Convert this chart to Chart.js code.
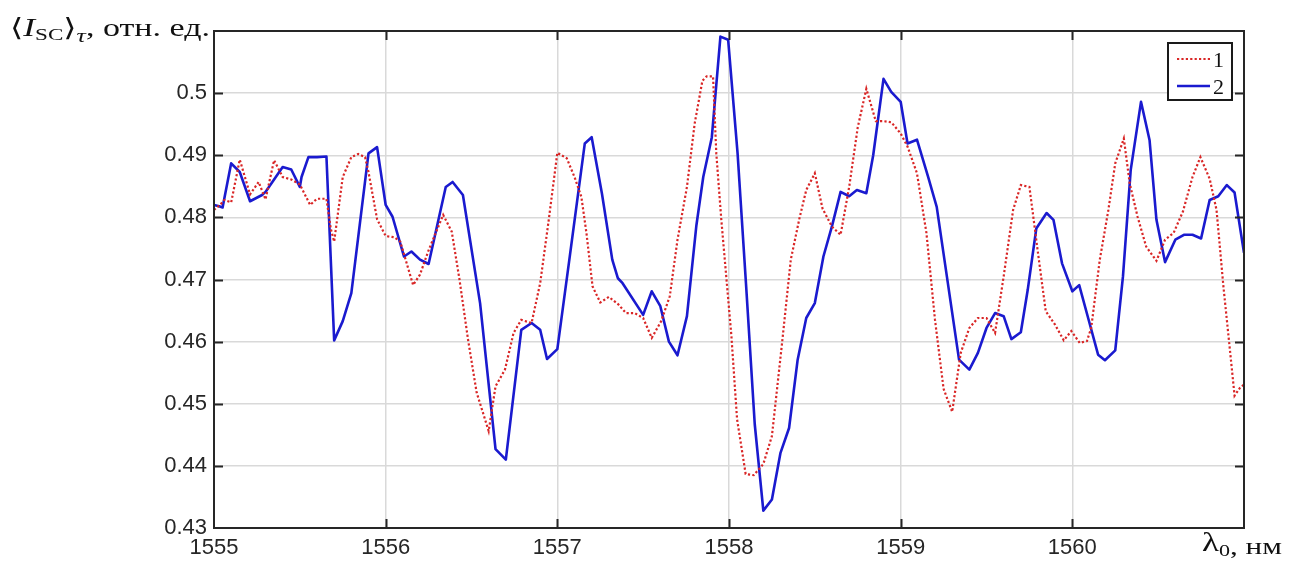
<!DOCTYPE html>
<html>
<head>
<meta charset="utf-8">
<script src="https://cdn.jsdelivr.net/npm/chart.js@4.4.1/dist/chart.umd.min.js"></script>
<style>
  html, body { margin: 0; padding: 0; background: #ffffff; }
  #wrap { width: 1292px; height: 564px; }
</style>
</head>
<body>
<div id="wrap"><canvas id="chart" width="1292" height="564"></canvas></div>
<script>
// Series 1 (dotted red): wavelength, nm
const wavelength1 = [
  1555.00, 1555.035, 1555.06, 1555.10, 1555.15, 1555.21, 1555.26, 1555.30, 1555.35, 1555.40,
  1555.45, 1555.50, 1555.56, 1555.60, 1555.655, 1555.68, 1555.70, 1555.75, 1555.80, 1555.84,
  1555.88, 1555.90, 1555.95, 1556.00, 1556.05, 1556.085, 1556.16, 1556.20, 1556.25, 1556.335,
  1556.385, 1556.43, 1556.48, 1556.53, 1556.60, 1556.64, 1556.695, 1556.745, 1556.79, 1556.85,
  1556.90, 1556.95, 1557.00, 1557.055, 1557.10, 1557.14, 1557.17, 1557.205, 1557.25, 1557.30,
  1557.355, 1557.40, 1557.45, 1557.50, 1557.55, 1557.605, 1557.655, 1557.70, 1557.755, 1557.80,
  1557.845, 1557.87, 1557.907, 1557.926, 1557.955, 1558.014, 1558.047, 1558.097, 1558.144, 1558.20,
  1558.25, 1558.31, 1558.36, 1558.41, 1558.45, 1558.50, 1558.545, 1558.60, 1558.65, 1558.70,
  1558.75, 1558.80, 1558.855, 1558.90, 1558.946, 1559.00, 1559.04, 1559.095, 1559.15, 1559.20,
  1559.25, 1559.30, 1559.35, 1559.40, 1559.45, 1559.50, 1559.55, 1559.60, 1559.655, 1559.70,
  1559.75, 1559.795, 1559.845, 1559.90, 1559.95, 1559.994, 1560.043, 1560.085, 1560.11, 1560.16,
  1560.21, 1560.25, 1560.30, 1560.334, 1560.38, 1560.43, 1560.49, 1560.54, 1560.59, 1560.645,
  1560.70, 1560.746, 1560.80, 1560.84, 1560.88, 1560.916, 1560.945, 1560.975, 1561.00
];
// Series 1: time-averaged intensity, rel. units
const signal1 = [
  0.4812, 0.4820, 0.4828, 0.4824, 0.4893, 0.4837, 0.4857, 0.4829, 0.4892, 0.4865,
  0.4861, 0.4853, 0.4820, 0.4830, 0.4830, 0.4782, 0.4761, 0.4865, 0.4897, 0.4902,
  0.4897, 0.4873, 0.4797, 0.4770, 0.4768, 0.4761, 0.4691, 0.4708, 0.4747, 0.4804,
  0.4777, 0.4700, 0.4603, 0.4518, 0.4456, 0.4528, 0.4555, 0.4614, 0.4635, 0.4630,
  0.4694, 0.4796, 0.4904, 0.4895, 0.4865, 0.4833, 0.4774, 0.4689, 0.4663, 0.4672,
  0.4660, 0.4646, 0.4646, 0.4638, 0.4606, 0.4633, 0.4673, 0.4764, 0.4849, 0.4951,
  0.5020, 0.5027, 0.5027, 0.4903, 0.4797, 0.4609, 0.4475, 0.4387, 0.4385, 0.4403,
  0.4448, 0.4600, 0.4732, 0.4798, 0.4844, 0.4871, 0.4814, 0.4785, 0.4772, 0.4849,
  0.4945, 0.5007, 0.4955, 0.4955, 0.4953, 0.4935, 0.4914, 0.4871, 0.4775, 0.4635,
  0.4524, 0.4487, 0.4582, 0.4622, 0.4638, 0.4638, 0.4614, 0.4705, 0.4812, 0.4852,
  0.4849, 0.4753, 0.4649, 0.4627, 0.4602, 0.4617, 0.4598, 0.4601, 0.4622, 0.4732,
  0.4812, 0.4887, 0.4927, 0.4855, 0.4801, 0.4753, 0.4730, 0.4764, 0.4775, 0.4810,
  0.4865, 0.4897, 0.4862, 0.4812, 0.4689, 0.4592, 0.4513, 0.4525, 0.4531
];

// Series 2 (solid blue): wavelength, nm
const wavelength2 = [
  1555.00, 1555.03, 1555.05, 1555.10, 1555.15, 1555.21, 1555.28, 1555.30, 1555.36, 1555.40,
  1555.45, 1555.50, 1555.51, 1555.55, 1555.60, 1555.655, 1555.70, 1555.75, 1555.80, 1555.90,
  1555.95, 1556.00, 1556.04, 1556.107, 1556.15, 1556.20, 1556.25, 1556.35, 1556.39, 1556.45,
  1556.55, 1556.64, 1556.70, 1556.79, 1556.85, 1556.90, 1556.94, 1557.00, 1557.07, 1557.16,
  1557.20, 1557.26, 1557.32, 1557.353, 1557.38, 1557.50, 1557.55, 1557.60, 1557.65, 1557.70,
  1557.755, 1557.81, 1557.85, 1557.90, 1557.95, 1557.995, 1558.05, 1558.10, 1558.15, 1558.20,
  1558.25, 1558.30, 1558.35, 1558.40, 1558.45, 1558.50, 1558.55, 1558.60, 1558.65, 1558.70,
  1558.745, 1558.80, 1558.84, 1558.90, 1558.945, 1559.00, 1559.04, 1559.095, 1559.16, 1559.21,
  1559.34, 1559.40, 1559.45, 1559.50, 1559.55, 1559.60, 1559.645, 1559.70, 1559.74, 1559.79,
  1559.85, 1559.89, 1559.94, 1560.00, 1560.04, 1560.10, 1560.15, 1560.19, 1560.25, 1560.295,
  1560.34, 1560.40, 1560.45, 1560.49, 1560.54, 1560.60, 1560.65, 1560.70, 1560.75, 1560.80,
  1560.85, 1560.90, 1560.945, 1561.00
];
// Series 2: time-averaged intensity, rel. units
const signal2 = [
  0.4820, 0.4818, 0.4816, 0.4887, 0.4873, 0.4826, 0.4836, 0.4841, 0.4865, 0.4881,
  0.4877, 0.4849, 0.4865, 0.4897, 0.4897, 0.4898, 0.4602, 0.4633, 0.4678, 0.4903,
  0.4913, 0.4820, 0.4801, 0.4737, 0.4745, 0.4732, 0.4725, 0.4849, 0.4857, 0.4836,
  0.4662, 0.4427, 0.4410, 0.4619, 0.4630, 0.4619, 0.4572, 0.4588, 0.4732, 0.4919,
  0.4929, 0.4838, 0.4732, 0.4702, 0.4694, 0.4643, 0.4681, 0.4657, 0.4600, 0.4578,
  0.4641, 0.4787, 0.4865, 0.4929, 0.5091, 0.5086, 0.4903, 0.4689, 0.4467, 0.4328,
  0.4346, 0.4421, 0.4461, 0.4571, 0.4638, 0.4662, 0.4737, 0.4786, 0.4841, 0.4834,
  0.4844, 0.4839, 0.4900, 0.5023, 0.5002, 0.4986, 0.4919, 0.4925, 0.4865, 0.4817,
  0.4571, 0.4555, 0.4582, 0.4622, 0.4646, 0.4641, 0.4604, 0.4615, 0.4683, 0.4782,
  0.4807, 0.4796, 0.4726, 0.4681, 0.4691, 0.4630, 0.4579, 0.4570, 0.4586, 0.4705,
  0.4876, 0.4986, 0.4924, 0.4796, 0.4728, 0.4764, 0.4772, 0.4772, 0.4766, 0.4828,
  0.4834, 0.4852, 0.4840, 0.4743
];

// Axis ticks
const xTickValues = [1555, 1556, 1557, 1558, 1559, 1560];
const yTickValues = [0.43, 0.44, 0.45, 0.46, 0.47, 0.48, 0.49, 0.5];
const seriesLabels = ['1', '2'];

const X_MIN = 1555, X_MAX = 1561;
const Y_MIN = 0.43, Y_MAX = 0.51;

const AXIS_COLOR = '#262626';
const GRID_COLOR = '#d9d9d9';
const TICK_FONT = { family: '"Liberation Sans", Arial, sans-serif', size: 22 };
const SERIF = '"Liberation Serif", "DejaVu Serif", serif';

function toPoints(xs, ys) {
  return xs.map((x, i) => ({ x: x, y: ys[i] }));
}

// Draws a sequence of text runs (with baseline shifts) stretched to span a given width
function drawRuns(ctx, runs, x0, baseline, targetWidth) {
  let total = 0;
  const widths = runs.map(r => { ctx.font = r.font; const w = ctx.measureText(r.text).width; total += w; return w; });
  const sx = targetWidth ? targetWidth / total : 1;
  ctx.save();
  ctx.translate(x0, baseline);
  ctx.scale(sx, 1);
  ctx.textAlign = 'left';
  ctx.textBaseline = 'alphabetic';
  ctx.fillStyle = '#111111';
  let x = 0;
  runs.forEach((r, i) => {
    ctx.font = r.font;
    ctx.fillText(r.text, x, r.dy || 0);
    x += widths[i];
  });
  ctx.restore();
}

const framePlugin = {
  id: 'frameAndLabels',
  afterDatasetsDraw(chart) {
    const { ctx, chartArea: a, scales } = chart;
    const xs = scales.x, ys = scales.y;
    const tickLen = 9;
    ctx.save();
    ctx.strokeStyle = AXIS_COLOR;
    ctx.lineWidth = 2;
    // inward tick marks on all four sides
    ctx.beginPath();
    xTickValues.forEach(v => {
      if (v <= X_MIN || v >= X_MAX) return;
      const px = Math.round(xs.getPixelForValue(v)) + 0.5;
      ctx.moveTo(px, a.bottom); ctx.lineTo(px, a.bottom - tickLen);
      ctx.moveTo(px, a.top); ctx.lineTo(px, a.top + tickLen);
    });
    yTickValues.forEach(v => {
      if (v <= Y_MIN + 1e-9 || v >= Y_MAX - 1e-9) return;
      const py = Math.round(ys.getPixelForValue(v)) + 0.5;
      ctx.moveTo(a.left, py); ctx.lineTo(a.left + tickLen, py);
      ctx.moveTo(a.right, py); ctx.lineTo(a.right - tickLen, py);
    });
    ctx.stroke();
    // box
    ctx.strokeRect(a.left, a.top, a.right - a.left, a.bottom - a.top);
    ctx.restore();
  },
  afterDraw(chart) {
    const { ctx } = chart;
    // legend box
    const lx = 1168, ly = 43, lw = 64, lh = 57;
    ctx.save();
    ctx.fillStyle = '#ffffff';
    ctx.fillRect(lx, ly, lw, lh);
    ctx.strokeStyle = '#1a1a1a';
    ctx.lineWidth = 2;
    ctx.strokeRect(lx, ly, lw, lh);
    const rowY = [59, 86];
    chart.data.datasets.forEach((ds, i) => {
      ctx.save();
      ctx.strokeStyle = ds.borderColor;
      ctx.lineWidth = ds.borderWidth;
      ctx.setLineDash(ds.borderDash || []);
      ctx.beginPath();
      ctx.moveTo(lx + 9, rowY[i]);
      ctx.lineTo(lx + 42, rowY[i]);
      ctx.stroke();
      ctx.restore();
      ctx.fillStyle = '#111111';
      ctx.font = '22px ' + SERIF;
      ctx.textAlign = 'left';
      ctx.textBaseline = 'alphabetic';
      ctx.fillText(ds.label, lx + 45, rowY[i] + 8);
    });
    ctx.restore();

    // y-axis title: <I_SC>_tau, отн. ед.
    drawRuns(ctx, [
      { text: '\u27E8', font: '25px ' + SERIF },
      { text: 'I', font: 'italic 26px ' + SERIF },
      { text: 'SC', font: '17px ' + SERIF, dy: 4 },
      { text: '\u27E9', font: '25px ' + SERIF },
      { text: '\u03C4', font: 'italic 19px ' + SERIF, dy: 6 },
      { text: ', отн. ед.', font: '25px ' + SERIF }
    ], 10, 36, 200);

    // x-axis title: lambda_0, нм
    drawRuns(ctx, [
      { text: '\u03BB', font: '27px ' + SERIF },
      { text: '0', font: '17px ' + SERIF, dy: 5 },
      { text: ', нм', font: '24px ' + SERIF, dy: 3 }
    ], 1202, 551, 80);
  }
};

new Chart(document.getElementById('chart'), {
  type: 'line',
  data: {
    datasets: [
      {
        label: seriesLabels[0],
        data: toPoints(wavelength1, signal1),
        borderColor: '#d92626',
        borderWidth: 2.2,
        borderDash: [2.2, 2.2],
        borderCapStyle: 'butt',
        pointRadius: 0,
        tension: 0,
        fill: false
      },
      {
        label: seriesLabels[1],
        data: toPoints(wavelength2, signal2),
        borderColor: '#1a1acf',
        borderWidth: 2.6,
        borderJoinStyle: 'round',
        pointRadius: 0,
        tension: 0,
        fill: false
      }
    ]
  },
  options: {
    responsive: false,
    animation: false,
    devicePixelRatio: 1,
    layout: { padding: { left: 0, right: 48, top: 31, bottom: 0 } },
    plugins: {
      legend: { display: false },
      tooltip: { enabled: false },
      title: { display: false }
    },
    scales: {
      x: {
        type: 'linear',
        min: X_MIN,
        max: X_MAX,
        afterBuildTicks(scale) {
          scale.ticks = xTickValues.concat([X_MAX]).map(v => ({ value: v }));
        },
        afterFit(scale) { scale.height = 36; },
        ticks: {
          padding: 7,
          color: AXIS_COLOR,
          font: TICK_FONT,
          maxRotation: 0,
          autoSkip: false,
          callback: (v) => (v >= X_MAX ? '' : String(Math.round(v)))
        },
        grid: { color: GRID_COLOR, lineWidth: 1.5, drawTicks: false },
        border: { display: false }
      },
      y: {
        type: 'linear',
        min: Y_MIN,
        max: Y_MAX,
        afterBuildTicks(scale) {
          scale.ticks = yTickValues.concat([Y_MAX]).map(v => ({ value: v }));
        },
        afterFit(scale) { scale.width = 214; },
        ticks: {
          padding: 7,
          color: AXIS_COLOR,
          font: TICK_FONT,
          autoSkip: false,
          callback: (v) => (v >= Y_MAX - 1e-9 ? '' : String(Math.round(v * 100) / 100))
        },
        grid: { color: GRID_COLOR, lineWidth: 1.5, drawTicks: false },
        border: { display: false }
      }
    }
  },
  plugins: [framePlugin]
});
</script>
</body>
</html>
